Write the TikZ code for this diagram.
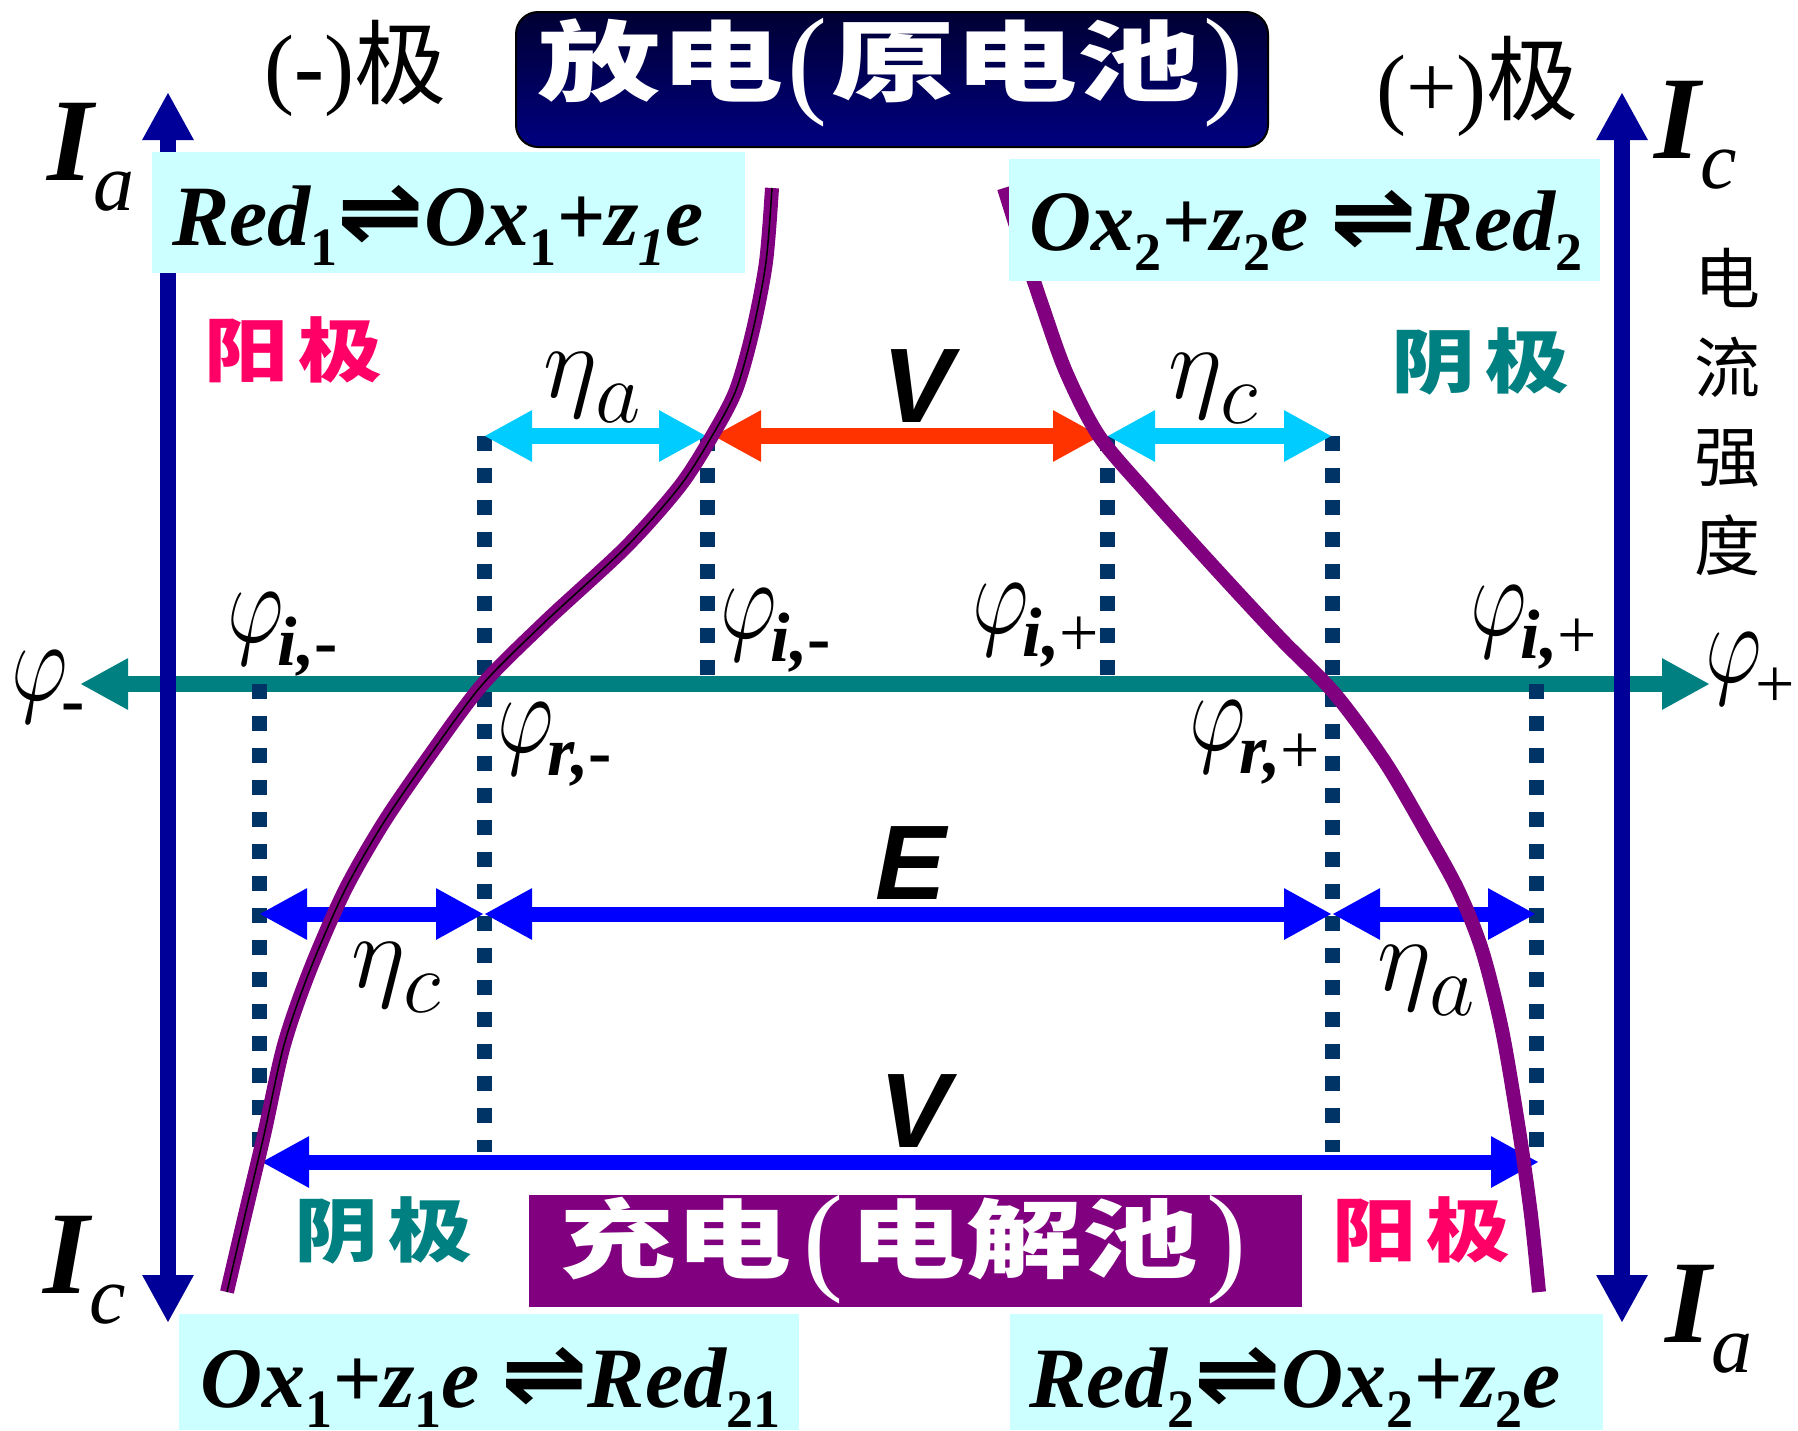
\RequirePackage{fix-cm}
\documentclass[tikz,border=0pt]{standalone}
\usepackage{fontspec}
\usepackage{graphicx}
\usetikzlibrary{arrows.meta}
\newfontfamily\tnr{Liberation Serif}
\newfontfamily\arl{Liberation Sans}
\newfontfamily\djv{DejaVu Sans}
\newfontfamily\cjk{Noto Sans CJK SC}
\definecolor{axisnavy}{RGB}{0,0,153}
\definecolor{axteal}{RGB}{0,128,128}
\definecolor{dotnavy}{RGB}{0,51,102}
\definecolor{skyarrow}{RGB}{0,204,255}
\definecolor{vred}{RGB}{255,51,0}
\definecolor{pureblue}{RGB}{0,0,255}
\definecolor{curvepurple}{RGB}{128,0,128}
\definecolor{paleCyan}{RGB}{204,255,255}
\definecolor{hotpink}{RGB}{255,0,102}
\definecolor{titletop}{RGB}{0,0,51}
\definecolor{titlebot}{RGB}{0,0,128}
\newcommand\fsz[1]{\fontsize{#1}{#1}\selectfont}
\newcommand\eqsub[1]{\raisebox{-20pt}{\fsz{54}#1}}
\newcommand\eqarr{\raisebox{3pt}{\djv\bfseries\upshape\scalebox{1.2}[1.05]{⇌}}}
\newcommand\phiglyph{\scalebox{0.88}[1.15]{\fsz{100}$\varphi$}}
\newcommand\philab[1]{\phiglyph\kern-6pt\raisebox{-23pt}{\tnr\fsz{70}#1}}
\newcommand\etalab[1]{{\fsz{104}$\eta$}\kern-2pt\raisebox{-25pt}{\fsz{88}$#1$}}
\newcommand\ilab[2]{{\tnr\bfseries\itshape I}\raisebox{-30pt}{\tnr\itshape\fsz{82}#2}}
\newcommand\cjkw[1]{\scalebox{1.2}[1]{#1}}
\tikzset{
  >={Triangle[length=48pt,width=48pt]},
  navyaxis/.style={draw=axisnavy, line width=16pt, <->},
  tealaxis/.style={draw=axteal, line width=16pt, <->},
  dotline/.style={draw=dotnavy, line width=15pt, dash pattern=on 15pt off 17pt},
  skyarr/.style={draw=skyarrow, line width=16pt, <->},
  vredarr/.style={draw=vred, line width=16pt, <->},
  bluearr/.style={draw=pureblue, line width=15pt, <->},
  curveline/.style={draw=curvepurple, line width=14pt},
  cybox/.style={fill=paleCyan, draw=none, inner sep=0pt, anchor=north west},
  eqtext/.style={font=\tnr\bfseries\itshape\fsz{86}, inner sep=0pt, anchor=base west},
  philabel/.style={inner sep=0pt, anchor=base west},
  sanslabel/.style={font=\arl\bfseries\itshape\fsz{106}, inner sep=0pt, anchor=base},
  ilabel/.style={font=\fsz{118}, inner sep=0pt, anchor=base west},
  polelabel/.style={font=\cjk\bfseries\fsz{70}, inner sep=0pt, anchor=center},
  signlabel/.style={font=\tnr\fsz{90}, inner sep=0pt, anchor=base west}
}
\begin{document}
\begin{tikzpicture}[x=1pt,y=-1pt]
\useasboundingbox[fill=white] (0,0) rectangle (1798,1430);

% coordinates
\coordinate (axL) at (80,684);   \coordinate (axR) at (1710,684);
\coordinate (lvT) at (168,92);   \coordinate (lvB) at (168,1323);
\coordinate (rvT) at (1622,92);  \coordinate (rvB) at (1622,1323);
\coordinate (d1t) at (259,684);  \coordinate (d1b) at (259,1152);
\coordinate (d2t) at (484,436);  \coordinate (d2b) at (484,1152);
\coordinate (d3t) at (707,436);  \coordinate (d3b) at (707,684);
\coordinate (d4t) at (1107,436); \coordinate (d4b) at (1107,684);
\coordinate (d5t) at (1332,436); \coordinate (d5b) at (1332,1152);
\coordinate (d6t) at (1536,684); \coordinate (d6b) at (1536,1152);
\coordinate (vL) at (713,436);   \coordinate (vR) at (1101,436);
\coordinate (e1) at (259,914);   \coordinate (e2) at (484,914);
\coordinate (e5) at (1332,914);  \coordinate (e6) at (1536,914);
\coordinate (b1) at (261,1162);  \coordinate (b6) at (1539,1162);

% title box
\node[draw=black, line width=2pt, rounded corners=22pt, top color=titletop, bottom color=titlebot,
      minimum width=752pt, minimum height=135pt, anchor=north west, inner sep=0pt] (titlebox) at (515,11) {};
\node[inner sep=0pt, anchor=base, text=white] (titletext) at (890,94)
  {\cjk\bfseries\fsz{88}\scalebox{1.4}[1]{放电}\hspace{4pt}{\tnr\mdseries\fsz{120}\raisebox{-7pt}{(}}\hspace{4pt}\scalebox{1.4}[1]{原电池}\hspace{2pt}{\tnr\mdseries\fsz{120}\raisebox{-7pt}{)}}};

% charge box
\node[fill=curvepurple, minimum width=773pt, minimum height=112pt, anchor=north west, inner sep=0pt] (chargebox) at (529,1195) {};
\node[inner sep=0pt, anchor=base, text=white] (chargetext) at (903,1271)
  {\cjk\bfseries\fsz{86}\scalebox{1.35}[1]{充电}\hspace{12pt}{\tnr\mdseries\fsz{120}\raisebox{-7pt}{(}}\hspace{6pt}\scalebox{1.35}[1]{电解池}\hspace{8pt}{\tnr\mdseries\fsz{120}\raisebox{-7pt}{)}}};

% horizontal axis
\draw[tealaxis] (axR) -- (axL);
% vertical axes
\draw[navyaxis] (lvB) -- (lvT);
\draw[navyaxis] (rvB) -- (rvT);

% dotted lines
\draw[dotline] (d1t) -- (d1b);
\draw[dotline] (d2t) -- (d2b);
\draw[dotline] (d3t) -- (d3b);
\draw[dotline] (d4t) -- (d4b);
\draw[dotline] (d5t) -- (d5b);
\draw[dotline] (d6t) -- (d6b);

% arrows
\draw[skyarr] (d2t) -- (d3t);
\draw[vredarr] (vL) -- (vR);
\draw[skyarr] (d4t) -- (d5t);
\draw[bluearr] (e1) -- (e2);
\draw[bluearr] (e2) -- (e5);
\draw[bluearr] (e5) -- (e6);
\draw[bluearr] (b1) -- (b6);

% curves
\def\leftcurve{(772,188) (766,262) (753,330) (736,390) (712,436) (680,486) (626,547) (545,622) (482,685) (430,755) (384,822) (345,890) (310,970) (284,1045) (264,1135) (245,1215) (227,1292)}
\draw[curveline] plot[smooth, tension=0.5] coordinates {\leftcurve};
\draw[black, line width=1.5pt] plot[smooth, tension=0.5] coordinates {\leftcurve};
\draw[curveline] plot[smooth, tension=0.5] coordinates {(1004,188) (1022,245) (1042,305) (1066,372) (1099,436) (1150,496) (1215,568) (1280,638) (1335,694) (1385,762) (1425,830) (1458,890) (1482,950) (1502,1030) (1519,1130) (1531,1215) (1539,1292)};

% cyan equation boxes
\node[cybox, minimum width=593pt, minimum height=121pt] (boxTL) at (152,152) {};
\node[cybox, minimum width=591pt, minimum height=122pt] (boxTR) at (1009,159) {};
\node[cybox, minimum width=620pt, minimum height=116pt] (boxBL) at (179,1314) {};
\node[cybox, minimum width=593pt, minimum height=116pt] (boxBR) at (1010,1314) {};
\node[eqtext] (eqTL) at (172,245) {Red\eqsub{\upshape 1}\eqarr Ox\eqsub{\upshape 1}+z\eqsub{1}e};
\node[eqtext] (eqTR) at (1029,250) {Ox\eqsub{\upshape 2}+z\eqsub{\upshape 2}e\ \eqarr Red\eqsub{\upshape 2}};
\node[eqtext] (eqBL) at (200,1407) {Ox\eqsub{\upshape 1}+z\eqsub{\upshape 1}e\ \eqarr Red\eqsub{\upshape 21}};
\node[eqtext] (eqBR) at (1029,1407) {Red\eqsub{\upshape 2}\eqarr Ox\eqsub{\upshape 2}+z\eqsub{\upshape 2}e};

% pole labels
\node[signlabel] (negpole) at (264,97) {(\textbf{-})\raisebox{0pt}{\cjk\fsz{92}极}};
\node[signlabel] (pospole) at (1376,117) {(+)\raisebox{4pt}{\cjk\fsz{92}极}};

% current labels
\node[ilabel] (IaTL) at (47,180) {\ilab{}{a}};
\node[ilabel] (IcTR) at (1654,158) {\ilab{}{c}};
\node[ilabel] (IcBL) at (43,1293) {\ilab{}{c}};
\node[ilabel] (IaBR) at (1665,1342) {\ilab{}{a}};

% electrode names
\node[polelabel, text=hotpink] (yangTL) at (293,350) {\cjkw{阳}\hspace{10pt}\cjkw{极}};
\node[polelabel, text=axteal] (yinTR) at (1480,361) {\cjkw{阴}\hspace{10pt}\cjkw{极}};
\node[polelabel, text=axteal] (yinBL) at (383,1230) {\cjkw{阴}\hspace{10pt}\cjkw{极}};
\node[polelabel, text=hotpink] (yangBR) at (1421,1230) {\cjkw{阳}\hspace{10pt}\cjkw{极}};

% vertical label
\node[font=\cjk\fontsize{66}{89}\selectfont, align=center, inner sep=0pt] (ilabelv) at (1727,412) {电\\流\\强\\度};

% V and E
\node[sanslabel] (Vtop) at (918,422) {V};
\node[sanslabel] (Vbot) at (915,1147) {V};
\node[sanslabel] (Elab) at (911,899) {E};

% eta labels
\node[philabel] (etaAtop) at (543,397) {\etalab{a}};
\node[philabel] (etaCtop) at (1168,398) {\etalab{c}};
\node[philabel] (etaCbot) at (351,987) {\etalab{c}};
\node[philabel] (etaAbot) at (1377,990) {\etalab{a}};

% phi labels
\node[philabel] (phiminus) at (11,700) {\philab{\bfseries -}};
\node[philabel] (phiplus) at (1705,682) {\phiglyph\kern-6pt\raisebox{-25pt}{\tnr\fsz{70}+}};
\node[philabel] (phiImL) at (227,642) {\philab{{\bfseries\itshape i,}{\bfseries -}}};
\node[philabel] (phiImM) at (720,638) {\philab{{\bfseries\itshape i,}{\bfseries -}}};
\node[philabel] (phiRm) at (497,752) {\philab{{\bfseries\itshape r,}{\bfseries -}}};
\node[philabel] (phiIpM) at (972,633) {\philab{{\bfseries\itshape i,}+}};
\node[philabel] (phiRp) at (1189,750) {\philab{{\bfseries\itshape r,}+}};
\node[philabel] (phiIpR) at (1470,635) {\philab{{\bfseries\itshape i,}+}};
\end{tikzpicture}
\end{document}
